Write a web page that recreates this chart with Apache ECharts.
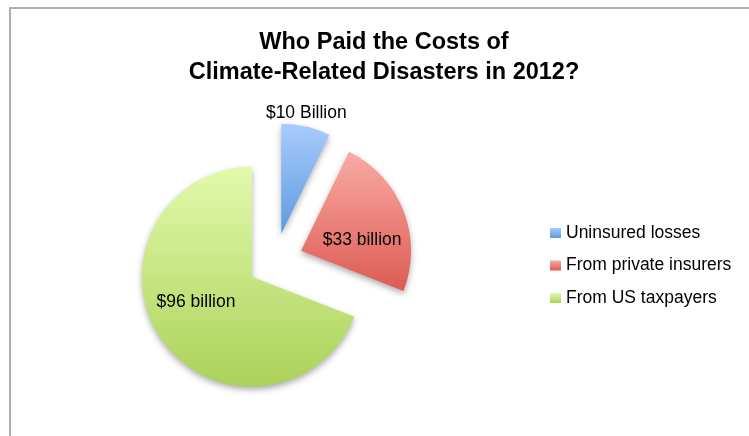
<!DOCTYPE html>
<html>
<head>
<meta charset="utf-8">
<script src="https://cdn.jsdelivr.net/npm/echarts@6/dist/echarts.min.js"></script>
<style>
html,body{margin:0;padding:0;background:#fff;}
#wrap{position:relative;width:749px;height:436px;overflow:hidden;}
#frame{position:absolute;left:9px;top:7px;width:800px;height:500px;border-top:2px solid #adadad;border-left:2px solid #adadad;}
#chart{position:absolute;left:0;top:0;width:749px;height:436px;}
</style>
</head>
<body>
<div id="wrap"><div id="frame"></div><div id="chart"></div></div>
<script>
const categories = ['Uninsured losses', 'From private insurers', 'From US taxpayers'];
const values = [10, 33, 96];
const valueLabels = ['$10 Billion', '$33 billion', '$96 billion'];

const gradients = [
  ['#a9cbfc', '#5b9be0'],
  ['#f9aaa5', '#dd5b53'],
  ['#e2f9ab', '#abd25a']
];
const labelShift = [[12, -64], [7, 11], [-8, -7]];

const chart = echarts.init(document.getElementById('chart'), null, {renderer: 'canvas'});
const grad = (c) => new echarts.graphic.LinearGradient(0, 0, 0, 1, [{offset: 0, color: c[0]}, {offset: 1, color: c[1]}]);

chart.setOption({
  animation: false,
  backgroundColor: 'transparent',
  title: {
    text: 'Who Paid the Costs of\nClimate-Related Disasters in 2012?',
    left: 379,
    textAlign: 'center',
    top: 23,
    textStyle: {fontFamily: 'Liberation Sans, Arial, sans-serif', fontSize: 23.5, fontWeight: 'bold', color: '#000', lineHeight: 30}
  },
  legend: {
    orient: 'vertical',
    left: 545,
    top: 219,
    itemWidth: 11,
    itemHeight: 10,
    itemGap: 14.5,
    icon: 'rect',
    selectedMode: false,
    data: categories,
    textStyle: {fontFamily: 'Liberation Sans, Arial, sans-serif', fontSize: 17.5, color: '#000', lineHeight: 18}
  },
  series: [{
    type: 'pie',
    center: [275, 261],
    radius: [0, 110],
    startAngle: 90,
    clockwise: true,
    selectedMode: 'multiple',
    selectedOffset: 28,
    avoidLabelOverlap: false,
    silent: true,
    itemStyle: {shadowBlur: 6, shadowOffsetY: 3, shadowColor: 'rgba(0,0,0,0.32)'},
    label: {
      show: true,
      position: 'inside',
      fontFamily: 'Liberation Sans, Arial, sans-serif',
      fontSize: 17.5,
      color: '#000',
      formatter: (p) => valueLabels[p.dataIndex]
    },
    labelLine: {show: false},
    labelLayout: (p) => ({dx: labelShift[p.dataIndex][0], dy: labelShift[p.dataIndex][1]}),
    emphasis: {disabled: true},
    data: categories.map((c, i) => ({
      name: c,
      value: values[i],
      selected: true,
      itemStyle: {color: grad(gradients[i])}
    }))
  }]
});
</script>
</body>
</html>
